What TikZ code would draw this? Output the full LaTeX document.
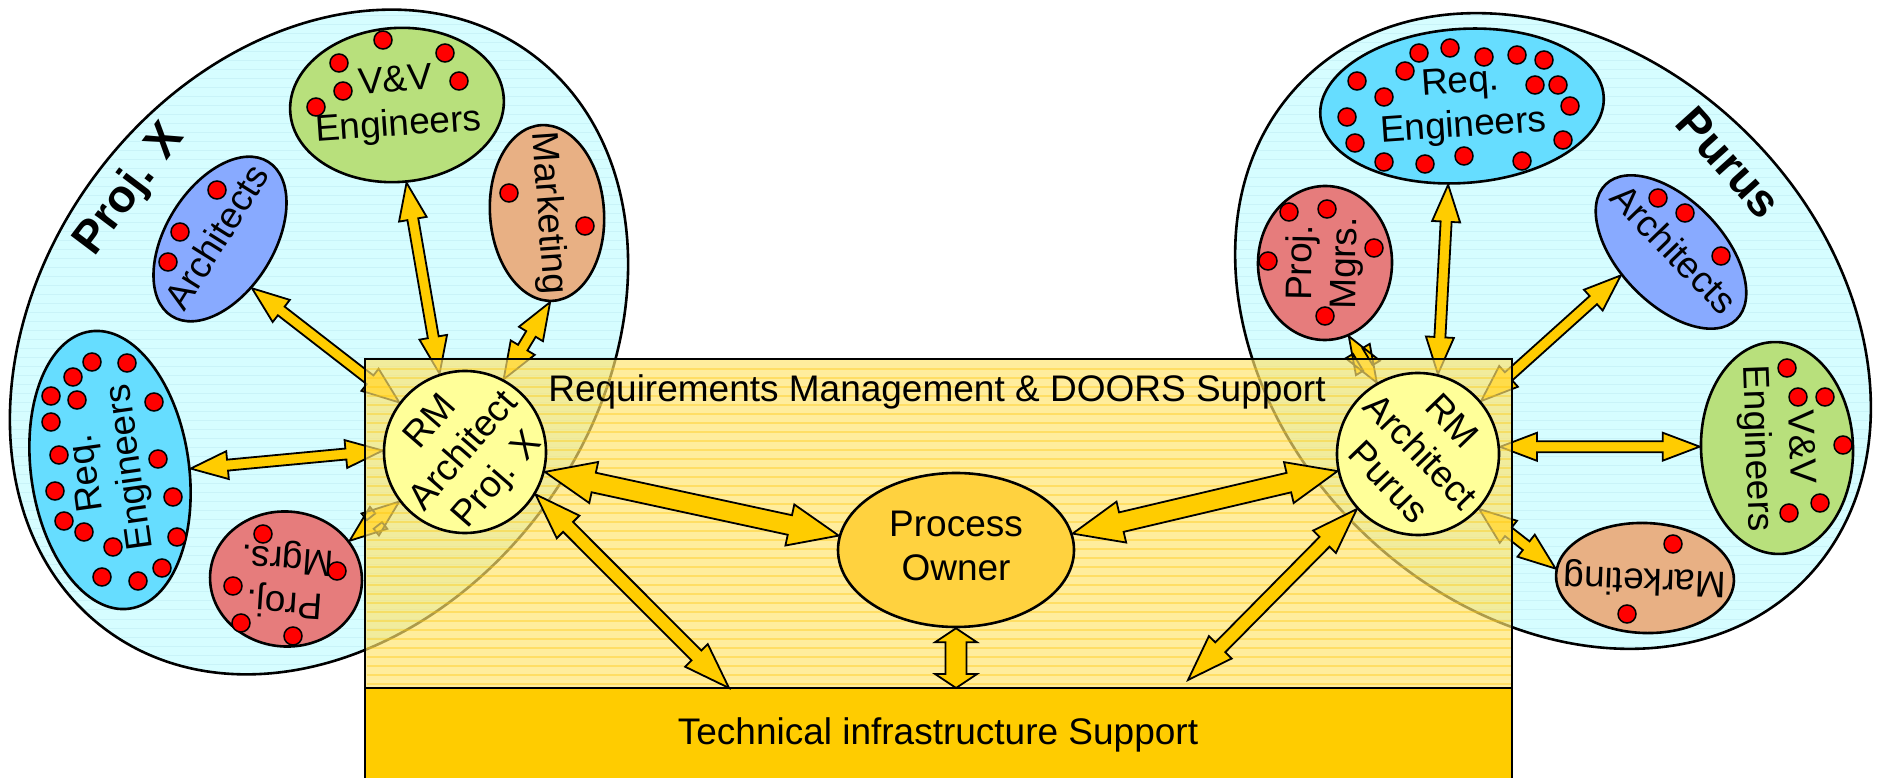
\documentclass[tikz,border=0pt]{standalone}
\usepackage{fontspec}
\setmainfont{Liberation Sans}
\usetikzlibrary{shapes.geometric,calc}
\pgfdeclarelayer{bg}
\pgfdeclarelayer{arr}
\pgfdeclarelayer{boxl}
\pgfsetlayers{bg,arr,boxl,main}

\definecolor{cyanbg}{HTML}{D6FDFF}
\definecolor{cyanline}{HTML}{C9F3F8}
\definecolor{reqcol}{HTML}{66DDFF}
\definecolor{vvcol}{HTML}{B8E07C}
\definecolor{mktcol}{HTML}{E8B084}
\definecolor{archcol}{HTML}{88AAFF}
\definecolor{pmcol}{HTML}{E67C7C}
\definecolor{rmcol}{HTML}{FFFF99}
\definecolor{pocol}{HTML}{FFD23F}
\definecolor{techcol}{HTML}{FFCC00}
\definecolor{arrowcol}{HTML}{FFCC00}
\definecolor{boxcol}{HTML}{FFE46E}
\definecolor{boxline}{HTML}{FFC400}
\definecolor{dotred}{HTML}{FF0000}

% centred multi-line text that does not enlarge its node
\newcommand\ctext[1]{\makebox[0pt]{\raisebox{-4pt}{\begin{tabular}{@{}c@{}}#1\end{tabular}}}}

% double-headed block arrow: #1,#2 end points, #3 half shaft, #4 half head, #5 head length
\newcommand\blockarr[5]{%
  \path[arrowbody] let \p1=#1, \p2=#2,
    \n1={atan2(\y2-\y1,\x2-\x1)}, \n2={veclen(\x2-\x1,\y2-\y1)} in
    (\p1)
    -- ({\x1+#5*cos(\n1)-#4*sin(\n1)},{\y1+#5*sin(\n1)+#4*cos(\n1)})
    -- ({\x1+#5*cos(\n1)-#3*sin(\n1)},{\y1+#5*sin(\n1)+#3*cos(\n1)})
    -- ({\x1+(\n2-#5)*cos(\n1)-#3*sin(\n1)},{\y1+(\n2-#5)*sin(\n1)+#3*cos(\n1)})
    -- ({\x1+(\n2-#5)*cos(\n1)-#4*sin(\n1)},{\y1+(\n2-#5)*sin(\n1)+#4*cos(\n1)})
    -- (\p2)
    -- ({\x1+(\n2-#5)*cos(\n1)+#4*sin(\n1)},{\y1+(\n2-#5)*sin(\n1)-#4*cos(\n1)})
    -- ({\x1+(\n2-#5)*cos(\n1)+#3*sin(\n1)},{\y1+(\n2-#5)*sin(\n1)-#3*cos(\n1)})
    -- ({\x1+#5*cos(\n1)+#3*sin(\n1)},{\y1+#5*sin(\n1)-#3*cos(\n1)})
    -- ({\x1+#5*cos(\n1)+#4*sin(\n1)},{\y1+#5*sin(\n1)-#4*cos(\n1)})
    -- cycle;}
\newcommand\thinarr[2]{\blockarr{#1}{#2}{5.5}{14}{37}}
\newcommand\widearr[2]{\blockarr{#1}{#2}{10}{21}{50}}
\newcommand\midarr[2]{\blockarr{#1}{#2}{7}{16}{46}}
\newcommand\stubarr[2]{\blockarr{#1}{#2}{10.5}{21}{14}}

\tikzset{
  arrowbody/.style={draw=black, fill=arrowcol, line width=1.8pt, line join=miter},
  bigarea/.style={ellipse, draw=black, line width=2.6pt, fill=cyanbg, inner sep=0pt},
  grp/.style={ellipse, draw=black, line width=2.6pt, inner sep=0pt,
              font=\fontsize{37}{44}\selectfont},
  rmcircle/.style={circle, draw=black, line width=2.6pt, fill=rmcol, inner sep=0pt,
              minimum size=162, font=\fontsize{37}{44}\selectfont},
  member/.style={draw=black, line width=1.5pt, fill=dotred},
  teamlabel/.style={font=\bfseries\fontsize{46}{50}\selectfont},
  plain/.style={font=\fontsize{37}{44}\selectfont, inner sep=0pt},
}

\begin{document}
\begin{tikzpicture}[x=1pt,y=1pt]
\useasboundingbox (0,0) rectangle (1877,777);

\begin{pgfonlayer}{bg}
  % the two project areas
  \node[bigarea, minimum width=716, minimum height=558, rotate=53.6] (projx) at (319,435) {};
  \node[bigarea, minimum width=708, minimum height=554, rotate=-45] (purus) at (1553,446) {};
  \begin{scope}
    \clip[rotate around={53.6:(319,435)}] (319,435) ellipse [x radius=356, y radius=277];
    \foreach \yy in {104,113,...,770} \draw[cyanline, line width=1pt] (0,\yy) -- (700,\yy);
  \end{scope}
  \begin{scope}
    \clip[rotate around={-45:(1553,446)}] (1553,446) ellipse [x radius=352, y radius=275];
    \foreach \yy in {104,113,...,770} \draw[cyanline, line width=1pt] (1200,\yy) -- (1877,\yy);
  \end{scope}

  % Proj. X groups
  \node[grp, fill=vvcol, minimum width=214, minimum height=154, rotate=4] (vvx) at (397,672) {\ctext{V\&V\\Engineers}};
  \node[grp, fill=mktcol, minimum width=176, minimum height=114, rotate=-86] (mktx) at (547,564) {\ctext{Marketing}};
  \node[grp, fill=archcol, minimum width=182, minimum height=108, rotate=58] (archx) at (220,538) {\ctext{Architects}};
  \node[grp, fill=reqcol, minimum width=280, minimum height=158, rotate=98] (reqx) at (110,307) {\ctext{Req.\\Engineers}};
  \node[grp, fill=pmcol, minimum width=152, minimum height=135, rotate=176] (pmx) at (286,198) {\ctext{Proj.\\Mgrs.}};

  % Purus groups
  \node[grp, fill=reqcol, minimum width=284, minimum height=154, rotate=4] (reqp) at (1462,671) {\ctext{Req.\\Engineers}};
  \node[grp, fill=pmcol, minimum width=154, minimum height=134, rotate=89] (pmp) at (1325,514) {\ctext{Proj.\\Mgrs.}};
  \node[grp, fill=archcol, minimum width=188, minimum height=104, rotate=-46] (archp) at (1671,525) {\ctext{Architects}};
  \node[grp, fill=vvcol, minimum width=212, minimum height=152, rotate=-88] (vvp) at (1777,329) {\ctext{V\&V\\Engineers}};
  \node[grp, fill=mktcol, minimum width=178, minimum height=110, rotate=178] (mktp) at (1645,199) {\ctext{Marketing}};

  % team members
  \foreach \dx/\dy in {383/737, 445/724, 339/714, 459/696, 343/686, 316/670,
                       509/584, 585/551,
                       217/587, 180/545, 168/515,
                       92/415, 127/414, 73/400, 51/381, 77/377, 154/375, 51/355, 59/322, 158/318,
                       55/286, 173/280, 64/256, 84/245, 177/240, 113/230, 102/200, 162/209, 138/196,
                       263/243, 337/206, 233/191, 241/154, 293/141,
                       1419/724, 1450/729, 1484/720, 1517/722, 1544/717, 1405/706, 1357/696, 1384/680,
                       1535/692, 1558/692, 1570/671, 1347/660, 1355/634, 1563/637, 1384/615, 1425/613,
                       1464/621, 1522/616,
                       1289/565, 1327/568, 1268/516, 1374/529, 1325/461,
                       1658/579, 1685/564, 1721/521,
                       1787/409, 1798/380, 1825/380, 1843/332, 1820/274, 1789/264,
                       1673/233, 1627/163}
    \draw[member] (\dx,\dy) circle (9);

  \node[teamlabel, rotate=53] (projxlbl) at (130,587) {Proj. X};
  \node[teamlabel, rotate=-48] (puruslbl) at (1729,614) {Purus};
\end{pgfonlayer}

% RM architects
\node[rmcircle, rotate=49] (rmx) at (465,325) {\ctext{RM\\Architect\\Proj. X}};
\node[rmcircle, rotate=-46] (rmp) at (1418,323) {\ctext{RM\\Architect\\Purus}};

% support layers
\begin{pgfonlayer}{boxl}
  \node[fill=boxcol, fill opacity=0.68, inner sep=0pt, outer sep=0pt,
        minimum width=1147, minimum height=329] (rms) at (938.5,253.5) {};
  \foreach \yy in {93,102,...,414}
    \draw[boxline, line width=1.6pt, opacity=0.35] (366.5,\yy) -- (1510.5,\yy);
  \draw[line width=2.4pt] (rms.south west) rectangle (rms.north east);
  \node[draw=black, line width=2.4pt, fill=techcol, inner sep=0pt, outer sep=0pt,
        minimum width=1147, minimum height=99] (tech) at (938.5,39.5) {};
\end{pgfonlayer}

\node[ellipse, draw=black, line width=2.6pt, fill=pocol, inner sep=0pt,
      minimum width=236, minimum height=154, font=\fontsize{37}{44}\selectfont] (po) at (956,227) {\ctext{Process\\Owner}};

% links inside the project areas
\begin{pgfonlayer}{arr}
  \thinarr{(rmx.94)}{(archx.-115)}
  \thinarr{(rmx.59)}{(vvx.-87)}
  \thinarr{(rmx.13)}{(mktx.-2)}
  \thinarr{(rmx.130)}{(reqx.-97)}
  \thinarr{(rmx.168)}{(pmx.-145)}
  \thinarr{(rmp.166)}{(pmp.-161)}
  \thinarr{(rmp.122)}{(reqp.-104)}
  \thinarr{(rmp.86)}{(archp.-109)}
  \thinarr{(rmp.51)}{(vvp.-93)}
  \thinarr{(rmp.4)}{(mktp.-4)}
\end{pgfonlayer}

% links to the process owner and the infrastructure
\widearr{(rmx.-63)}{(po.173)}
\widearr{(rmp.238)}{(po.8)}
\midarr{(rmx.-80)}{($(tech.north west)+(364,0)$)}
\midarr{(rmp.268)}{($(tech.north west)+(823,8)$)}
\stubarr{(po.south)}{($(tech.north west)+(591,0)$)}

\node[plain] (rmstxt) at (937,385) {Requirements Management \& DOORS Support};
\node[plain] (techtxt) at (938,42) {Technical infrastructure Support};
\end{tikzpicture}
\end{document}
